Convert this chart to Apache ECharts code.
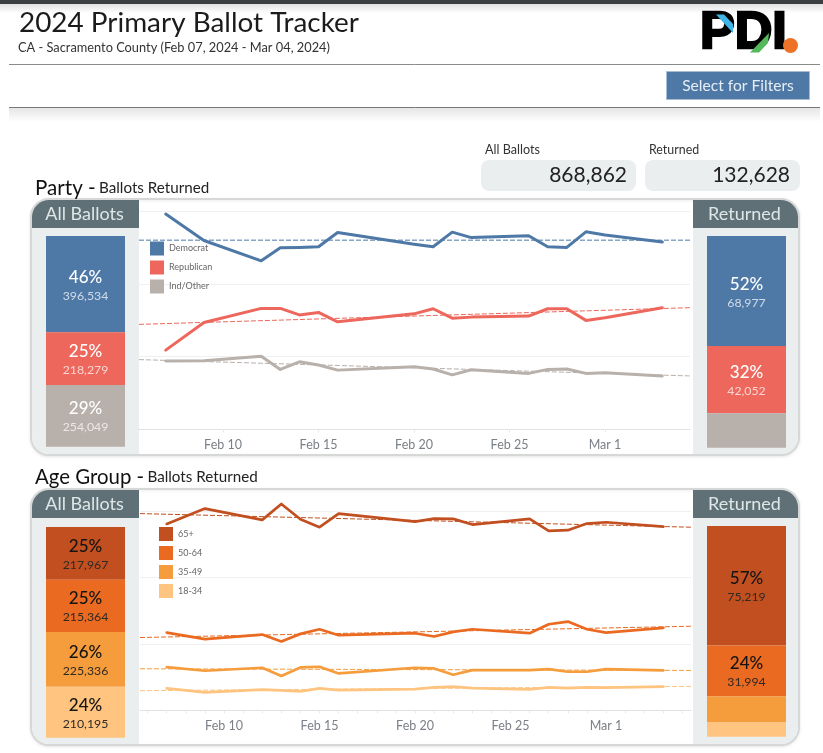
<!DOCTYPE html>
<html><head><meta charset="utf-8">
<style>html,body{margin:0;padding:0;background:#fff}#c{width:823px;height:753px}</style>
<script src="https://cdn.jsdelivr.net/npm/echarts@6/dist/echarts.min.js"></script>
</head><body><div id="c"></div>
<script>
const FONT = 'Lato, "Open Sans", sans-serif';
const tickDates = ['2024-02-10','2024-02-15','2024-02-20','2024-02-25','2024-03-01'];
const tickLabels = ['Feb 10','Feb 15','Feb 20','Feb 25','Mar 1'];
const axisStart = '2024-02-05 14:24:00';
const axisEnd = '2024-03-05 10:48:00';

const partyNames = ['Democrat','Republican','Ind/Other'];
const partyColors = ['#4e79a7','#ee675c','#b8b0ab'];
const partyDates = ['2024-02-07','2024-02-09','2024-02-12','2024-02-13','2024-02-14','2024-02-15','2024-02-16','2024-02-20','2024-02-21','2024-02-22','2024-02-23','2024-02-26','2024-02-27','2024-02-28','2024-02-29','2024-03-01','2024-03-04'];
const democrat =  [59.3,52.0,46.4,50.0,50.1,50.3,54.2,51.0,50.3,54.3,52.8,53.3,50.3,50.1,54.4,53.5,51.6];
const republican =[21.8,29.4,33.3,33.3,31.5,32.2,29.6,31.8,33.2,30.6,30.9,31.2,33.2,33.2,30.0,30.7,33.5];
const indOther =  [18.8,18.9,20.1,16.5,18.6,17.7,16.3,17.2,16.6,15.0,16.4,15.4,16.5,16.6,15.4,15.6,14.7];
const democratTrend = [52.1,52.1];
const republicanTrend = [28.9,33.5];
const indOtherTrend = [19.2,14.7];
const partyAll = [396534,218279,254049];
const partyAllPct = ['46%','25%','29%'];
const partyReturned = [68977,42052,21599];
const partyReturnedPct = ['52%','32%',''];

const ageNames = ['65+','50-64','35-49','18-34'];
const ageColors = ['#c14f1f','#e96a20','#f59c3c','#fec480'];
const ageDates = ['2024-02-07','2024-02-09','2024-02-12','2024-02-13','2024-02-14','2024-02-15','2024-02-16','2024-02-20','2024-02-21','2024-02-22','2024-02-23','2024-02-26','2024-02-27','2024-02-28','2024-02-29','2024-03-01','2024-03-04'];
const age65 = [56.1,60.7,57.3,62.1,57.5,55.1,59.2,56.8,57.7,57.6,55.9,57.6,54.0,54.2,56.2,56.6,55.3];
const age50 = [23.4,21.4,22.8,20.7,23.0,24.4,22.6,23.2,22.2,23.6,24.4,23.2,25.9,26.7,24.4,23.4,24.8];
const age35 = [13.0,11.9,12.8,10.3,12.9,13.1,11.1,12.8,12.6,10.7,12.1,12.1,12.4,11.6,11.6,12.4,12.0];
const age18 = [6.6,5.4,6.2,6.0,5.7,6.6,6.1,6.4,6.9,7.1,6.7,6.3,6.9,6.7,6.9,6.8,7.1];
const age65Trend = [59.2,55.1];
const age50Trend = [21.9,25.3];
const age35Trend = [12.5,12.0];
const age18Trend = [5.9,7.2];
const ageAll = [217967,215364,225336,210195];
const ageAllPct = ['25%','25%','26%','24%'];
const ageReturned = [75219,31994,16500,8915];
const ageReturnedPct = ['57%','24%','',''];

// x axis unit: days counted from Jan 31 2024, so the date scale stays linear
const t = s => (echarts.time.parse(s).getTime() - new Date(2024,0,31).getTime()) / 86400000;
const tickTs = tickDates.map(t);
const allDays = [];
for (let d = 6; d <= 34; d++) allDays.push(d);

const grids = [], xAxes = [], yAxes = [], series = [];
function lineGrid(left, top, height, ymax, names, colors, dates, rows, trends, dailyTicks, w){
  const i = grids.length;
  grids.push({left, top, width:551, height});
  xAxes.push({type:'value', gridIndex:i, min:t(axisStart), max:t(axisEnd),
    axisLine:{show:true, lineStyle:{color:'#dcdcdc', type:'dotted', width:1}},
    axisTick:{show:true, length:3, customValues: dailyTicks ? allDays : tickTs, lineStyle:{color:'#e8e8e8'}},
    axisLabel:{customValues:tickTs, margin:9, color:'#7b8088', fontSize:12.5, fontFamily:FONT, hideOverlap:false,
      formatter:v => tickLabels[tickTs.indexOf(+v)] || ''},
    splitLine:{show:false}});
  yAxes.push({type:'value', gridIndex:i, min:0, max:ymax, interval:20, axisLine:{show:false}, axisTick:{show:false}, axisLabel:{show:false},
    splitLine:{show:true, showMinLine:false, showMaxLine:false, lineStyle:{color:'#f0f0f0', width:1}}});
  names.forEach((n,k) => {
    series.push({name:n+' trend', type:'line', xAxisIndex:i, yAxisIndex:i, showSymbol:false, silent:true, z:3,
      data:[[t(axisStart),trends[k][0]],[t(axisEnd),trends[k][1]]],
      lineStyle:{color:colors[k], width:1, type:[5,2]}, itemStyle:{color:colors[k]}});
    series.push({name:n, type:'line', xAxisIndex:i, yAxisIndex:i, showSymbol:false, z:2, 
      data:dates.map((d,j)=>[t(d),rows[k][j]]),
      lineStyle:{color:colors[k], width:w, cap:'round', join:'round'}, itemStyle:{color:colors[k]}});
  });
}
function barGrid(left, top, height, names, colors, vals, pcts, pctColor, numColor){
  const i = grids.length;
  grids.push({left, top, width:79, height});
  xAxes.push({type:'category', gridIndex:i, data:['v'], show:false});
  yAxes.push({type:'value', gridIndex:i, inverse:true, min:0, max:vals.reduce((a,b)=>a+b,0), show:false});
  names.forEach((n,k) => series.push({name:n, type:'bar', stack:'s'+i, xAxisIndex:i, yAxisIndex:i, barWidth:'100%', silent:true,
    data:[vals[k]], itemStyle:{color:colors[k]},
    label:{show:!!pcts[k], position:'inside', offset:[0,1], fontFamily:FONT,
      formatter:'{p|'+pcts[k]+'}\n{n|'+vals[k].toLocaleString('en-US')+'}',
      rich:{p:{fontSize:17, color:pctColor, fontFamily:FONT, lineHeight:21, fontWeight:500}, n:{fontSize:12.3, color:numColor, fontFamily:FONT, lineHeight:16}}}}));
}
lineGrid(139,199.5,229.8,63.3,partyNames,partyColors,partyDates,[democrat,republican,indOther],[democratTrend,republicanTrend,indOtherTrend],false,3);
lineGrid(140,490,220.3,66.3,ageNames,ageColors,ageDates,[age65,age50,age35,age18],[age65Trend,age50Trend,age35Trend,age18Trend],true,2.7);
barGrid(46,236,210.7,partyNames,partyColors,partyAll,partyAllPct,'#ffffff','rgba(255,255,255,0.72)');
barGrid(707,236,211.7,partyNames,partyColors,partyReturned,partyReturnedPct,'#ffffff','rgba(255,255,255,0.72)');
barGrid(46,527,210.7,ageNames,ageColors,ageAll,ageAllPct,'#141414','#2f2a26');
barGrid(707,526,210.7,ageNames,ageColors,ageReturned,ageReturnedPct,'#141414','#2f2a26');

function txt(x,y,text,size,color,align,extra){
  return {type:'text', z:20, x, y, style:Object.assign({text, fontSize:size, fontFamily:FONT, fill:color, align:align||'left', verticalAlign:'middle'},extra||{})};
}
function panel(y,h){
  const H=29, head='#5f7176', side='#ebeeef';
  return [
    {type:'rect', z:-10, shape:{x:31,y,width:768,height:h,r:18}, style:{fill:'#fff', stroke:'#d6d8d8', lineWidth:2, shadowBlur:3, shadowColor:'rgba(0,0,0,0.08)', shadowOffsetY:1}},
    {type:'rect', z:-9, shape:{x:32,y:y+1,width:107,height:h-2,r:[17,0,0,17]}, style:{fill:side}},
    {type:'rect', z:-9, shape:{x:693,y:y+1,width:105,height:h-2,r:[0,17,17,0]}, style:{fill:side}},
    {type:'rect', z:-8, shape:{x:32,y:y+1,width:107,height:H-1,r:[17,0,0,0]}, style:{fill:head}},
    {type:'rect', z:-8, shape:{x:693,y:y+1,width:105,height:H-1,r:[0,17,0,0]}, style:{fill:head}},
    txt(84.5,y+15.5,'All Ballots',18,'#dfe7e8','center'),
    txt(744.5,y+15.5,'Returned',18,'#dfe7e8','center')
  ];
}
const graphics = [
  {type:'rect', z:-20, shape:{x:0,y:0,width:823,height:4}, style:{fill:'#3b3f42'}},
  {type:'rect', z:-20, shape:{x:0,y:4,width:823,height:9}, style:{fill:new echarts.graphic.LinearGradient(0,0,0,1,[{offset:0,color:'rgba(0,0,0,0.12)'},{offset:1,color:'rgba(0,0,0,0)'}])}},
  txt(19,23,'2024 Primary Ballot Tracker',27.9,'#1b1b1b'),
  txt(18,47.5,'CA - Sacramento County (Feb 07, 2024 - Mar 04, 2024)',12.8,'#333'),
  {type:'line', z:-5, shape:{x1:9,y1:64.5,x2:820,y2:64.5}, style:{stroke:'#8a8a8a', lineWidth:1}},
  {type:'line', z:-5, shape:{x1:9,y1:107.5,x2:820,y2:107.5}, style:{stroke:'#777', lineWidth:1}},
  {type:'rect', z:-20, shape:{x:9,y:108,width:811,height:14}, style:{fill:new echarts.graphic.LinearGradient(0,0,0,1,[{offset:0,color:'rgba(0,0,0,0.10)'},{offset:1,color:'rgba(0,0,0,0)'}])}},
  {type:'rect', z:5, shape:{x:666.5,y:71.5,width:143,height:28}, style:{fill:'#4e79a7', stroke:'#a9bdd3', lineWidth:1}},
  txt(738,86,'Select for Filters',15.6,'#e6edf4','center'),
  txt(485,150,'All Ballots',12.6,'#333'), txt(649,150,'Returned',12.4,'#333'),
  {type:'rect', z:-5, shape:{x:481,y:160,width:155,height:31,r:8}, style:{fill:'#ebeeef'}},
  {type:'rect', z:-5, shape:{x:645,y:160,width:155,height:31,r:8}, style:{fill:'#ebeeef'}},
  txt(627,175,'868,862',21,'#222','right'), txt(790,175,'132,628',21,'#222','right'),
  {type:'text', z:20, x:35, y:188.5, style:{text:'{a|Party -} {b|Ballots Returned}', verticalAlign:'middle', rich:{a:{fontSize:20.6,fontFamily:FONT,fill:'#111'},b:{fontSize:15.2,fontFamily:FONT,fill:'#222'}}}},
  {type:'text', z:20, x:35, y:477, style:{text:'{a|Age Group -} {b|Ballots Returned}', verticalAlign:'middle', rich:{a:{fontSize:20.4,fontFamily:FONT,fill:'#111'},b:{fontSize:15.2,fontFamily:FONT,fill:'#222'}}}},
  ...panel(199,256), ...panel(489,256),
  {type:'text', z:20, x:700, y:34, style:{text:'PDI', fontSize:52, fontWeight:'bold', fontFamily:'"Liberation Sans", sans-serif', fill:'#000', stroke:'#000', lineWidth:2.5, verticalAlign:'middle'}},
  {type:'polygon', z:21, shape:{points:[[716,14.5],[724,14.5],[733,24],[733,33]]}, style:{fill:'#3fb4e6'}},
  {type:'polygon', z:21, shape:{points:[[769,33],[768,43],[759,52.5],[750,52.5]]}, style:{fill:'#55b85a'}},
  {type:'circle', z:21, shape:{cx:790.5,cy:45.5,r:7.5}, style:{fill:'#ee7128'}}
];

const chart = echarts.init(document.getElementById('c'), null, {renderer:'canvas', width:823, height:753});
chart.setOption({
  animation:false, backgroundColor:'#fff', textStyle:{fontFamily:FONT},
  grid:grids, xAxis:xAxes, yAxis:yAxes, series, graphic:graphics,
  legend:[
    {data:partyNames, orient:'vertical', left:150, top:241.5, icon:'rect', itemWidth:14, itemHeight:14, itemGap:5, selectedMode:false, textStyle:{fontSize:9, color:'#666', fontFamily:FONT}, padding:0},
    {data:ageNames, orient:'vertical', left:159, top:527, icon:'rect', itemWidth:14, itemHeight:14, itemGap:5, selectedMode:false, textStyle:{fontSize:9, color:'#666', fontFamily:FONT}, padding:0}
  ]
});
</script></body></html>
